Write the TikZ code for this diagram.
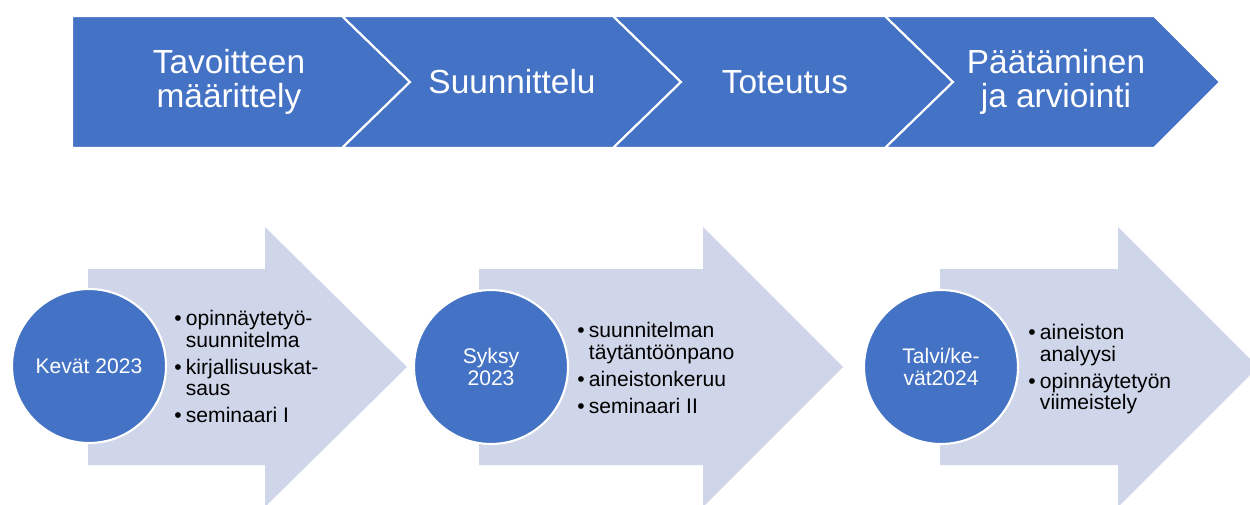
\documentclass[tikz,border=0pt]{standalone}
\usepackage{fontspec}
\setmainfont{Liberation Sans}

\definecolor{phaseblue}{RGB}{68,114,196}
\definecolor{steppale}{RGB}{208,214,234}

\tikzset{
  phase/.style={fill=phaseblue, draw=white, line width=1.2pt},
  phasetext/.style={text=white, align=center, font=\fontsize{19}{19.5}\selectfont},
  steparrow/.style={fill=steppale},
  season/.style={circle, fill=phaseblue, draw=white, line width=1.2pt, minimum size=3.08cm, inner sep=0pt, text=white, align=center, font=\fontsize{12}{12.5}\selectfont},
  tasks/.style={anchor=north west, inner sep=0pt, align=left, font=\fontsize{12}{12.3}\selectfont}
}
\newcommand{\bl}{\makebox[6.6pt][l]{\textbullet}}
\newcommand{\ind}{\makebox[6.6pt]{}}

\begin{document}
\begin{tikzpicture}[x=0.02cm, y=-0.02cm]
		\useasboundingbox (0,0) rectangle (1250,504);
		\clip (0,0) rectangle (1250,504);
		
		\draw[phase] (72,16) -- (342,16) -- (410,82) -- (342,148) -- (72,148) -- cycle;
		\draw[phase] (342,16) -- (613,16) -- (681,82) -- (613,148) -- (342,148) -- (410,82) -- cycle;
		\draw[phase] (613,16) -- (885,16) -- (953,82) -- (885,148) -- (613,148) -- (681,82) -- cycle;
		\draw[phase] (885,16) -- (1154,16) -- (1220,82) -- (1154,148) -- (885,148) -- (953,82) -- cycle;
		
		\node[phasetext] (goal) at (229,82) {Tavoitteen\\määrittely};
		\node[phasetext] (plan) at (512,82) {Suunnittelu};
		\node[phasetext] (exec) at (785,82) {Toteutus};
		\node[phasetext] (close) at (1056,82) {Päätäminen\\ja arviointi};
		
		\fill[steparrow] (88,269) -- (265,269) -- (265,227) -- (407,367) -- (265,507) -- (265,465) -- (88,465) -- cycle;
		\fill[steparrow] (479,269) -- (703,269) -- (703,227) -- (843,367) -- (703,507) -- (703,465) -- (479,465) -- cycle;
		\fill[steparrow] (940,269) -- (1118,269) -- (1118,227) -- (1258,367) -- (1118,507) -- (1118,465) -- (940,465) -- cycle;
		
		\node[season] (spring) at (89,366) {Kevät 2023};
		\node[season] (autumn) at (491,367) {Syksy\\2023};
		\node[season] (winter) at (941,367) {Talvi/ke-\\vät2024};
		
		\node[tasks] (springtasks) at (174,310) {\bl opinnäytetyö-\\\ind suunnitelma\\[3pt]\bl kirjallisuuskat-\\\ind saus\\[3pt]\bl seminaari I};
		\node[tasks] (autumntasks) at (577,322) {\bl suunnitelman\\\ind täytäntöönpano\\[3pt]\bl aineistonkeruu\\[3pt]\bl seminaari II};
		\node[tasks] (wintertasks) at (1028,324) {\bl aineiston\\\ind analyysi\\[3pt]\bl opinnäytetyön\\\ind viimeistely};
	\end{tikzpicture}
\end{document}
